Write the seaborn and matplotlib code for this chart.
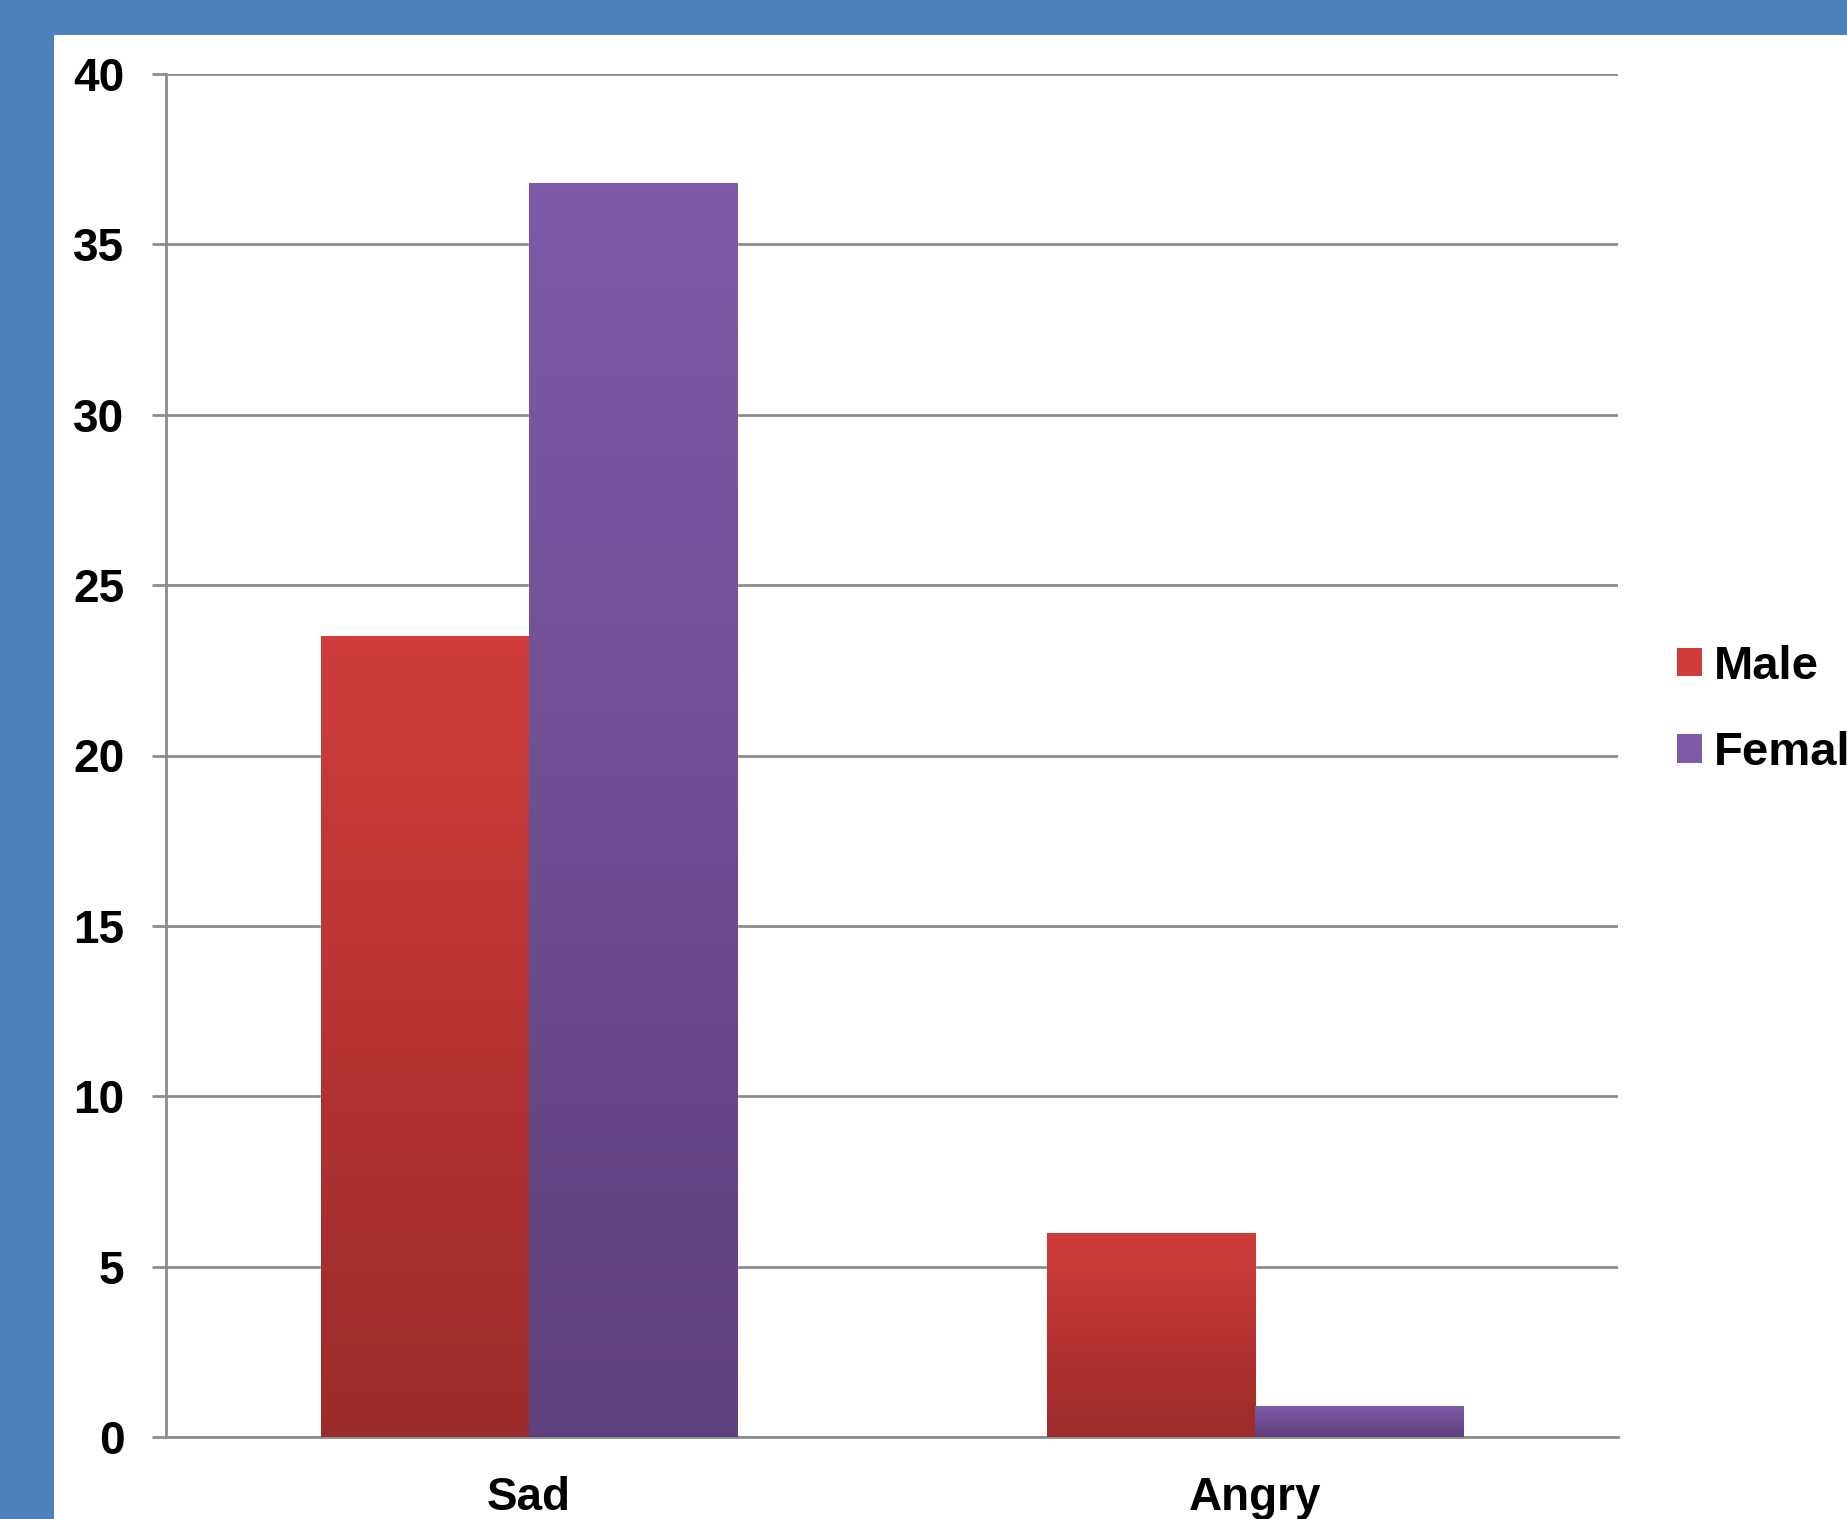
import numpy as np
import pandas as pd
import matplotlib
matplotlib.use("Agg")
import matplotlib.pyplot as plt
import seaborn as sns
from matplotlib.patches import Rectangle
from matplotlib.colors import to_rgb

# Data
categories = ["Sad", "Angry"]
genders = ["Male", "Female"]
male_values = [23.5, 6.0]
female_values = [36.8, 0.9]
y_ticks = [0, 5, 10, 15, 20, 25, 30, 35, 40]

# Colours (top / bottom of each bar gradient)
grad = {
    "Male": ("#d03d3a", "#9b2b2a"),
    "Female": ("#7e5ba9", "#5d417c"),
}
border_blue = "#4f81bd"
grid_grey = "#8c8c8c"

df = pd.DataFrame({
    "category": categories * 2,
    "gender": ["Male"] * len(categories) + ["Female"] * len(categories),
    "value": male_values + female_values,
})

sns.set_style("white")
plt.rcParams["font.family"] = ["Liberation Sans", "DejaVu Sans"]
plt.rcParams["font.weight"] = "bold"
plt.rcParams["text.color"] = "black"
plt.rcParams["xtick.labelcolor"] = "black"
plt.rcParams["ytick.labelcolor"] = "black"

fig = plt.figure(figsize=(18.47, 15.19), dpi=100)
fig.patch.set_facecolor(border_blue)
# white slide area inside the blue frame
fig.add_artist(Rectangle((54 / 1847, 0), 1, (1519 - 35) / 1519,
                         transform=fig.transFigure, facecolor="white",
                         edgecolor="none", zorder=0))

ax = fig.add_axes([166 / 1847, 82 / 1519, (1618 - 166) / 1847, (1437 - 74) / 1519])
ax.set_facecolor("none")

palette = {g: grad[g][0] for g in genders}
sns.barplot(data=df, x="category", y="value", hue="gender", order=categories,
            hue_order=genders, palette=palette, width=0.574, gap=0,
            saturation=1, legend=False, ax=ax, zorder=2)

# gradient fill clipped to each bar
bars = list(ax.patches)
for i, patch in enumerate(bars):
    g = genders[i // len(categories)]
    top, bot = np.array(to_rgb(grad[g][0])), np.array(to_rgb(grad[g][1]))
    t = np.linspace(0, 1, 256)[:, None]
    img = (top * (1 - t) + bot * t)[:, None, :]
    x0, w, h = patch.get_x(), patch.get_width(), patch.get_height()
    im = ax.imshow(img, extent=[x0, x0 + w, 0, h], aspect="auto",
                   origin="upper", zorder=3)
    im.set_clip_path(patch)

ax.set_xlim(-0.5, 1.5)
ax.set_ylim(0, 40)
ax.set_yticks(y_ticks)
ax.set_yticklabels([str(v) for v in y_ticks])
ax.yaxis.grid(True, color=grid_grey, linewidth=2)
ax.set_axisbelow(True)

# category boundary ticks + labels at centres
ax.set_xticks([-0.5, 0.5, 1.5])
ax.set_xticklabels(["", "", ""])
ax.set_xticks([0, 1], minor=True)
ax.set_xticklabels(categories, minor=True)
ax.tick_params(axis="x", which="major", length=10, width=2, color=grid_grey,
               direction="out")
ax.tick_params(axis="x", which="minor", length=0, pad=28, labelsize=33)
ax.tick_params(axis="y", length=10, width=2, color=grid_grey, direction="out",
               pad=20, labelsize=33, left=True)
for lab in ax.get_xticklabels(minor=True) + ax.get_yticklabels():
    lab.set_fontweight("bold")
    lab.set_color("black")

for s in ["top", "right"]:
    ax.spines[s].set_visible(False)
for s in ["left", "bottom"]:
    ax.spines[s].set_color(grid_grey)
    ax.spines[s].set_linewidth(2)

ax.set_xlabel("")
ax.set_ylabel("")

handles = [Rectangle((0, 0), 1, 1, facecolor=grad[g][0], edgecolor="none")
           for g in genders]
fig.legend(handles, genders, loc="center left",
           bbox_to_anchor=(1634 / 1847, 1 - 710 / 1519), frameon=False,
           prop={"size": 34, "weight": "bold"}, handlelength=0.55,
           handleheight=0.55, handletextpad=0.25, labelspacing=0.9,
           labelcolor="black")

fig.savefig("out.png", dpi=100, facecolor=fig.get_facecolor())
